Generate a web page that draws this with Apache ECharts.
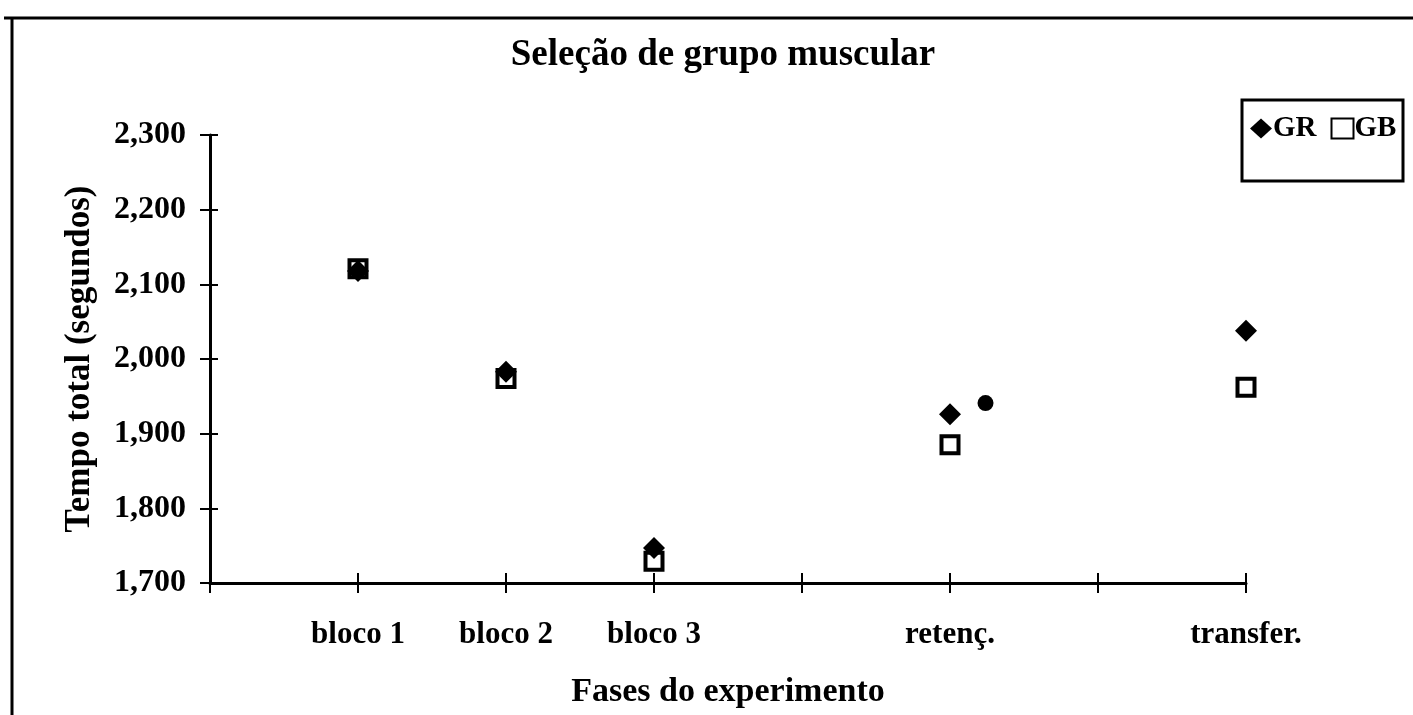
<!DOCTYPE html>
<html>
<head>
<meta charset="UTF-8">
<script src="https://cdn.jsdelivr.net/npm/echarts@6/dist/echarts.min.js"></script>
<style>
  html, body { margin: 0; padding: 0; background: #fff; }
  #chart { width: 1413px; height: 715px; }
</style>
</head>
<body>
<div id="chart"></div>
<script>
// x positions 1..7, two of them empty
var phaseLabels = ['', 'bloco 1', 'bloco 2', 'bloco 3', '', 'retenç.', '', 'transfer.'];
var grX = [1, 2, 3, 5, 7];
var grY = [2118, 1983, 1747, 1926, 2038];
var gbX = [1, 2, 3, 5, 7];
var gbY = [2121, 1974, 1729, 1885, 1962];
// stray dot next to retenç.
var extraX = [5.24];
var extraY = [1941];
var yTicks = [1700, 1800, 1900, 2000, 2100, 2200, 2300];

function pairs(xs, ys) {
    var out = [];
    for (var i = 0; i < xs.length; i++) out.push([xs[i], ys[i]]);
    return out;
}

var font = '"Liberation Serif", "Times New Roman", serif';
var chart = echarts.init(document.getElementById('chart'));

var option = {
    backgroundColor: '#fff',
    animation: false,
    title: {
        text: 'Seleção de grupo muscular',
        left: 718, top: 32, textAlign: 'center',
        textStyle: { fontFamily: font, fontWeight: 'bold', fontSize: 37, color: '#000' }
    },
    legend: {
        left: 1250, top: 114,
        itemWidth: 22, itemHeight: 20, itemGap: 14,
        padding: 0,
        textStyle: { fontFamily: font, fontWeight: 'bold', fontSize: 29, color: '#000', padding: [0, 0, 0, -4] },
        data: ['GR', 'GB']
    },
    grid: { left: 210, right: 167, top: 135, bottom: 132, outerBoundsMode: 'none' },
    xAxis: [{
        type: 'value', min: 0, max: 7, interval: 1,
        name: 'Fases do experimento', nameLocation: 'middle', nameGap: 92,
        nameTextStyle: { fontFamily: font, fontWeight: 'bold', fontSize: 34, color: '#000' },
        axisLine: { lineStyle: { color: '#000', width: 3 } },
        axisTick: { show: true, length: 10, lineStyle: { color: '#000', width: 2 } },
        splitLine: { show: false },
        axisLabel: {
            margin: 36, fontFamily: font, fontWeight: 'bold', fontSize: 31, color: '#000',
            formatter: function (v) { return phaseLabels[v] || ''; }
        }
    }, {
        type: 'value', min: 0, max: 7, interval: 1, position: 'bottom',
        axisLine: { show: false },
        axisTick: { show: true, inside: true, length: 10, lineStyle: { color: '#000', width: 2 } },
        axisLabel: { show: false }, splitLine: { show: false }
    }],
    yAxis: [{
        type: 'value', min: yTicks[0], max: yTicks[yTicks.length - 1], interval: 100,
        name: 'Tempo total (segundos)', nameLocation: 'middle', nameGap: 113, nameRotate: 90,
        nameTextStyle: { fontFamily: font, fontWeight: 'bold', fontSize: 35, color: '#000' },
        axisLine: { show: true, lineStyle: { color: '#000', width: 3 } },
        axisTick: { show: true, length: 10, lineStyle: { color: '#000', width: 2 } },
        splitLine: { show: false },
        axisLabel: {
            margin: 24, fontFamily: font, fontWeight: 'bold', fontSize: 32, color: '#000',
            formatter: function (v) { return echarts.format.addCommas(v); }
        }
    }, {
        type: 'value', min: yTicks[0], max: yTicks[yTicks.length - 1], interval: 100, position: 'left',
        axisLine: { show: false },
        axisTick: { show: true, inside: true, length: 8, lineStyle: { color: '#000', width: 2 } },
        axisLabel: { show: false }, splitLine: { show: false }
    }],
    graphic: [
        { type: 'line', shape: { x1: 4, y1: 18, x2: 1413, y2: 18 }, style: { stroke: '#000', lineWidth: 3 } },
        { type: 'line', shape: { x1: 12, y1: 17, x2: 12, y2: 715 }, style: { stroke: '#000', lineWidth: 3 } },
        { type: 'rect', shape: { x: 1242, y: 100, width: 161, height: 81 }, style: { fill: 'none', stroke: '#000', lineWidth: 3 } }
    ],
    series: [{
        name: 'GB', type: 'scatter', symbol: 'rect', symbolSize: 17, z: 2,
        itemStyle: { color: '#fff', borderColor: '#000', borderWidth: 4, opacity: 1 },
        data: pairs(gbX, gbY)
    }, {
        name: 'GR', type: 'scatter', symbol: 'diamond', symbolSize: 22, z: 3,
        itemStyle: { color: '#000', opacity: 1 },
        data: pairs(grX, grY)
    }, {
        name: 'extra', type: 'scatter', symbol: 'circle', symbolSize: 16, z: 3,
        itemStyle: { color: '#000', opacity: 1 },
        data: pairs(extraX, extraY)
    }]
};
chart.setOption(option);
</script>
</body>
</html>
